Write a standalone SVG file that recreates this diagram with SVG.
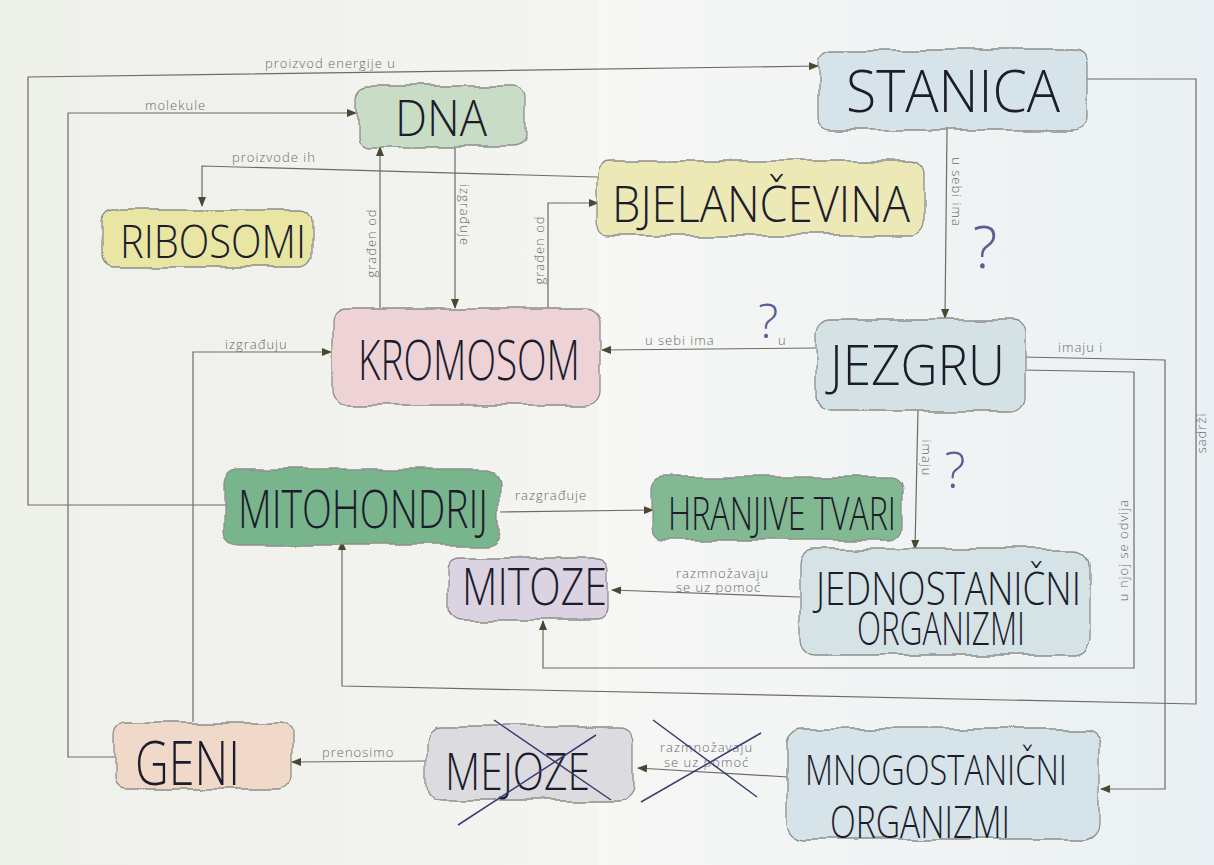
<svg xmlns="http://www.w3.org/2000/svg" width="1214" height="865" viewBox="0 0 1214 865">
  <style>
    .node { stroke: #8c8f8a; stroke-width: 1.3; filter: url(#wavy); }
    .nt { font-family: "Open Sans", Inter, "Liberation Sans", sans-serif; font-weight: 300; fill: #1c1c2c; }
    .lbl { font-family: "Open Sans", "Liberation Sans", sans-serif; font-weight: 300; font-size: 13px; fill: #6a6a6a; letter-spacing: 1px; }
    .cn { fill: none; stroke: #6c6c64; stroke-width: 1.2; }
    .q { font-family: "Open Sans", "Liberation Sans", sans-serif; font-weight: 300; fill: #5c5c98; }
    .x { stroke: #3b3b72; stroke-width: 1.5; fill: none; }
  </style>
  <defs>
    <linearGradient id="paper" x1="0" y1="0" x2="1" y2="0">
      <stop offset="0" stop-color="#eef0ea"/>
      <stop offset="0.49" stop-color="#f4f4f0"/>
      <stop offset="0.51" stop-color="#f6f7f5"/>
      <stop offset="1" stop-color="#eaf0f3"/>
    </linearGradient>
    <filter id="wavy" x="-6%" y="-15%" width="112%" height="130%">
      <feTurbulence type="fractalNoise" baseFrequency="0.032" numOctaves="1" seed="4" result="n"/>
      <feDisplacementMap in="SourceGraphic" in2="n" scale="12" xChannelSelector="R" yChannelSelector="G"/>
    </filter>
    <marker id="ah" viewBox="0 0 10 8" refX="9" refY="4" markerWidth="10" markerHeight="8" orient="auto" markerUnits="userSpaceOnUse">
      <path d="M0,0 L10,4 L0,8 z" fill="#4a4830"/>
    </marker>
  </defs>

  <rect x="0" y="0" width="1214" height="865" fill="url(#paper)"/>
  <rect x="598" y="0" width="10" height="865" fill="#ffffff" opacity="0.35"/>

  <g id="connectors">
    <polyline class="cn" points="226,505 28,505 28,77 818,66" marker-end="url(#ah)"/>
    <text class="lbl" x="265" y="68">proizvod energije u</text>
    <polyline class="cn" points="114,757 68,757 68,113 356,113" marker-end="url(#ah)"/>
    <text class="lbl" x="145" y="110">molekule</text>
    <polyline class="cn" points="597,177 202,166 202,206" marker-end="url(#ah)"/>
    <text class="lbl" x="232" y="162">proizvode ih</text>
    <polyline class="cn" points="380,308 380,147" marker-end="url(#ah)"/>
    <text class="lbl" transform="translate(376,243) rotate(-90)" text-anchor="middle">građen od</text>
    <polyline class="cn" points="455,148 455,308" marker-end="url(#ah)"/>
    <text class="lbl" transform="translate(460,215) rotate(90)" text-anchor="middle">izgrađuje</text>
    <polyline class="cn" points="548,318 548,203 598,203" marker-end="url(#ah)"/>
    <text class="lbl" transform="translate(544,250) rotate(-90)" text-anchor="middle">građen od</text>
    <polyline class="cn" points="947,129 945,318" marker-end="url(#ah)"/>
    <text class="lbl" transform="translate(952,192) rotate(90)" text-anchor="middle">u sebi ima</text>
    <polyline class="cn" points="816,348 602,350" marker-end="url(#ah)"/>
    <text class="lbl" x="645" y="345">u sebi ima</text>
    <text class="lbl" x="778" y="345">u</text>
    <polyline class="cn" points="918,410 915,549" marker-end="url(#ah)"/>
    <text class="lbl" transform="translate(922,458) rotate(90)" text-anchor="middle">imaju</text>
    <polyline class="cn" points="1022,357 1165,360 1165,789 1101,789" marker-end="url(#ah)"/>
    <text class="lbl" x="1058" y="352">imaju i</text>
    <polyline class="cn" points="1022,370 1134,372 1134,668 543,668 543,621" marker-end="url(#ah)"/>
    <text class="lbl" transform="translate(1128,550) rotate(-90)" text-anchor="middle">u njoj se odvija</text>
    <polyline class="cn" points="1085,79 1196,79 1196,704 342,686 342,541" marker-end="url(#ah)"/>
    <text class="lbl" transform="translate(1206,433) rotate(-90)" text-anchor="middle">sadrži</text>
    <polyline class="cn" points="193,722 193,352 331,352" marker-end="url(#ah)"/>
    <text class="lbl" x="225" y="349">izgrađuju</text>
    <polyline class="cn" points="500,512 653,510" marker-end="url(#ah)"/>
    <text class="lbl" x="515" y="500">razgrađuje</text>
    <polyline class="cn" points="800,597 612,590" marker-end="url(#ah)"/>
    <text class="lbl" x="676" y="578">razmnožavaju</text>
    <text class="lbl" x="676" y="592">se uz pomoć</text>
    <polyline class="cn" points="426,761 292,762" marker-end="url(#ah)"/>
    <text class="lbl" x="322" y="757">prenosimo</text>
    <polyline class="cn" points="788,777 638,768" marker-end="url(#ah)"/>
    <text class="lbl" x="660" y="752">razmnožavaju</text>
    <text class="lbl" x="664" y="767">se uz pomoć</text>
  </g>

  <g id="node-stanica">
    <rect class="node" x="818" y="50" width="268" height="80" rx="14" fill="#d6e3e8"/>
    <text class="nt" x="846" y="112" font-size="58" textLength="214" lengthAdjust="spacingAndGlyphs">STANICA</text>
  </g>
  <g id="node-dna">
    <rect class="node" x="357" y="86" width="168" height="61" rx="12" fill="#c8dcc6"/>
    <text class="nt" x="395" y="136" font-size="50" textLength="92" lengthAdjust="spacingAndGlyphs">DNA</text>
  </g>
  <g id="node-ribosomi">
    <rect class="node" x="100" y="209" width="212" height="58" rx="12" fill="#e8e6a2"/>
    <text class="nt" x="120" y="258" font-size="46" textLength="186" lengthAdjust="spacingAndGlyphs">RIBOSOMI</text>
  </g>
  <g id="node-bjelancevina">
    <rect class="node" x="597" y="161" width="327" height="74" rx="14" fill="#ece9b6"/>
    <text class="nt" x="612" y="222" font-size="50" textLength="298" lengthAdjust="spacingAndGlyphs">BJELANČEVINA</text>
  </g>
  <g id="node-kromosom">
    <rect class="node" x="332" y="309" width="268" height="96" rx="14" fill="#edd2d6"/>
    <text class="nt" x="358" y="380" font-size="56" textLength="222" lengthAdjust="spacingAndGlyphs">KROMOSOM</text>
  </g>
  <g id="node-jezgru">
    <rect class="node" x="816" y="319" width="208" height="92" rx="14" fill="#d4e1e5"/>
    <text class="nt" x="830" y="385" font-size="56" textLength="175" lengthAdjust="spacingAndGlyphs">JEZGRU</text>
  </g>
  <g id="node-mitohondrij">
    <rect class="node" x="224" y="469" width="275" height="76" rx="14" fill="#78b48c"/>
    <text class="nt" x="238" y="528" font-size="53" textLength="250" lengthAdjust="spacingAndGlyphs">MITOHONDRIJ</text>
  </g>
  <g id="node-hranjive-tvari">
    <rect class="node" x="652" y="477" width="250" height="63" rx="12" fill="#82b892"/>
    <text class="nt" x="668" y="530" font-size="46" textLength="228" lengthAdjust="spacingAndGlyphs">HRANJIVE TVARI</text>
  </g>
  <g id="node-mitoze">
    <rect class="node" x="448" y="558" width="162" height="62" rx="12" fill="#dbd2e2"/>
    <text class="nt" x="462" y="605" font-size="51" textLength="145" lengthAdjust="spacingAndGlyphs">MITOZE</text>
  </g>
  <g id="node-jednostanicni">
    <rect class="node" x="799" y="549" width="291" height="106" rx="16" fill="#d5e3e6"/>
    <text class="nt" x="816" y="605" font-size="46" textLength="265" lengthAdjust="spacingAndGlyphs">JEDNOSTANIČNI</text>
    <text class="nt" x="857" y="645" font-size="46" textLength="168" lengthAdjust="spacingAndGlyphs">ORGANIZMI</text>
  </g>
  <g id="node-geni">
    <rect class="node" x="114" y="723" width="177" height="66" rx="12" fill="#f0d9c9"/>
    <text class="nt" x="135" y="785" font-size="60" textLength="105" lengthAdjust="spacingAndGlyphs">GENI</text>
  </g>
  <g id="node-mejoze">
    <rect class="node" x="426" y="726" width="207" height="74" rx="14" fill="#dcdce0"/>
    <text class="nt" x="445" y="790" font-size="52" textLength="145" lengthAdjust="spacingAndGlyphs">MEJOZE</text>
  </g>
  <g id="node-mnogostanicni">
    <rect class="node" x="787" y="729" width="313" height="110" rx="16" fill="#d6e3e9"/>
    <text class="nt" x="805" y="785" font-size="42" textLength="262" lengthAdjust="spacingAndGlyphs">MNOGOSTANIČNI</text>
    <text class="nt" x="830" y="838" font-size="44" textLength="180" lengthAdjust="spacingAndGlyphs">ORGANIZMI</text>
  </g>

  <g id="annotations">
    <text class="q" x="985" y="268" font-size="58" text-anchor="middle">?</text>
    <text class="q" x="768" y="338" font-size="48" text-anchor="middle">?</text>
    <text class="q" x="955" y="488" font-size="50" text-anchor="middle">?</text>
    <path class="x" d="M494,720 L611,800 M458,825 L596,735"/>
    <path class="x" d="M653,720 L757,797 M641,802 L761,733"/>
  </g>
</svg>
